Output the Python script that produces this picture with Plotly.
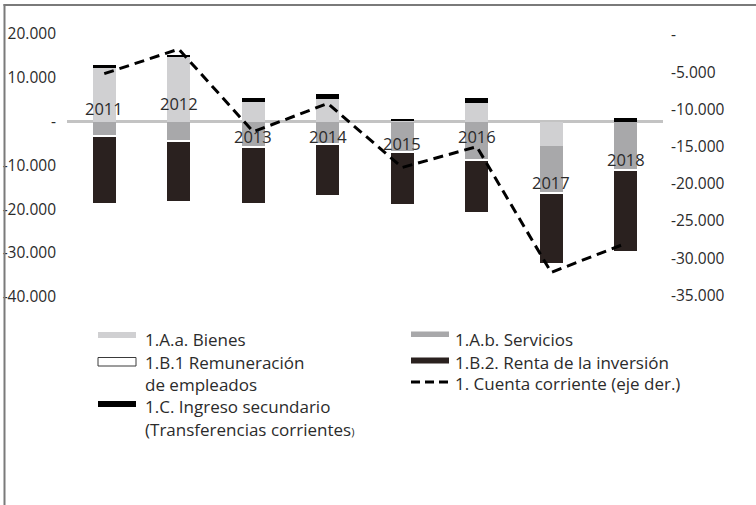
import plotly.graph_objects as go

# Balanza de pagos: componentes de la cuenta corriente (eje izq.) y saldo (eje der.)
years = ["2011", "2012", "2013", "2014", "2015", "2016", "2017", "2018"]

bienes = [12200, 14700, 4500, 5100, 300, 4200, -5600, 0]
servicios = [-3100, -4300, -5700, -4900, -6900, -8600, -10700, -10900]
remuneracion = [-400, -400, -400, -400, -300, -400, -300, -300]
renta = [-15000, -13400, -12400, -11500, -11700, -11600, -15700, -18300]
ingreso_sec = [700, 600, 800, 1300, 400, 1100, 0, 900]
cuenta_corriente = [-5200, -1900, -13000, -9200, -17800, -15000, -31900, -28000]

left_ticks = [20000, 10000, 0, -10000, -20000, -30000, -40000]
left_ticktext = ["20.000", "10.000", "-", "-10.000", "-20.000", "-30.000", "-40.000"]
right_ticks = [0, -5000, -10000, -15000, -20000, -25000, -30000, -35000]
right_ticktext = ["-", "-5.000", "-10.000", "-15.000", "-20.000", "-25.000", "-30.000", "-35.000"]

FONT = "Open Sans"
TXT = "#2b2b2b"
C_BIENES = "#d0d0d2"
C_SERV = "#a8a8aa"
C_REM = "#ffffff"
C_RENTA = "#2a211f"
C_ING = "#000000"

W, H = 756, 505
ML, MR, MT, MB = 67, 93, 20, 195

def px(xp):
    return (xp - ML) / (W - ML - MR)

def py(yp):
    return (H - MB - yp) / (H - MT - MB)

fig = go.Figure()
bar_w = 0.31
for name, vals, col in [
    ("1.A.a. Bienes", bienes, C_BIENES),
    ("1.A.b. Servicios", servicios, C_SERV),
    ("1.B.1 Remuneración de empleados", remuneracion, C_REM),
    ("1.B.2. Renta de la inversión", renta, C_RENTA),
    ("1.C. Ingreso secundario", ingreso_sec, C_ING),
]:
    fig.add_trace(go.Bar(x=years, y=vals, name=name, marker=dict(color=col, line=dict(width=0)),
                         width=bar_w, showlegend=False, hoverinfo="skip"))

fig.add_trace(go.Scatter(x=years, y=cuenta_corriente, yaxis="y2", mode="lines",
                         line=dict(color="#000000", width=3, dash="10px,6px"),
                         showlegend=False, hoverinfo="skip"))

# Year labels placed over the bars (left-axis units); x given as category index
label_y = [3100, 4200, -3500, -3500, -4900, -3300, -13900, -8600]
annotations = []
for i, (yr, ly) in enumerate(zip(years, label_y)):
    annotations.append(dict(x=i, y=ly, xref="x", yref="y", text=yr, showarrow=False,
                            font=dict(family=FONT, size=16.5, color=TXT)))

# Legend built from swatches and text
shapes = []
def swatch(x0, x1, y0, y1, fill, line_col=None):
    shapes.append(dict(type="rect", xref="paper", yref="paper",
                       x0=px(x0), x1=px(x1), y0=py(y1), y1=py(y0),
                       fillcolor=fill,
                       line=dict(color=line_col or fill, width=1 if line_col else 0)))

swatch(98, 136, 332, 338, C_BIENES)
swatch(98, 136, 357.5, 366, "#ffffff", "#3a3a3a")
swatch(98, 136, 401, 407, C_ING)
swatch(411, 449, 331.5, 337, C_SERV)
swatch(411, 449, 357.5, 363.5, C_RENTA)
shapes.append(dict(type="line", xref="paper", yref="paper", x0=px(411), x1=px(449),
                   y0=py(382), y1=py(382), line=dict(color="#000000", width=2.8, dash="9px,5px")))

legend_text = [
    (143, 339.5, "1.A.a. Bienes"),
    (143, 362, "1.B.1 Remuneración"),
    (143, 384, "de empleados"),
    (143, 406.5, "1.C. Ingreso secundario"),
    (143, 429, "(Transferencias corrientes<span style=\"font-size:11px\">)</span>"),
    (453, 339.5, "1.A.b. Servicios"),
    (453, 362, "1.B.2. Renta de la inversión"),
    (453, 383, "1. Cuenta corriente (eje der.)"),
]
for xl, yl, t in legend_text:
    annotations.append(dict(x=px(xl), y=py(yl), xref="paper", yref="paper", text=t,
                            showarrow=False, xanchor="left", yanchor="middle",
                            font=dict(family=FONT, size=17, color=TXT)))

# Outer frame: top and left edges
frame_col = "#7a7a7a"
shapes.append(dict(type="line", xref="paper", yref="paper", layer="above",
                   x0=px(3.5), x1=px(W), y0=py(5), y1=py(5),
                   line=dict(color=frame_col, width=2)))
shapes.append(dict(type="line", xref="paper", yref="paper", layer="above",
                   x0=px(4.5), x1=px(4.5), y0=py(4), y1=py(H),
                   line=dict(color=frame_col, width=2)))

fig.update_layout(
    width=W, height=H,
    margin=dict(l=ML, r=MR, t=MT, b=MB, pad=0),
    paper_bgcolor="white", plot_bgcolor="white",
    barmode="relative", bargap=0,
    font=dict(family=FONT, color=TXT),
    xaxis=dict(type="category", range=[-0.5, 7.5], showticklabels=False, showgrid=False,
               zeroline=False, showline=False, ticks="", automargin=False),
    yaxis=dict(range=[-43030, 23210], tickvals=left_ticks, ticktext=left_ticktext,
               showgrid=False, zeroline=True, zerolinecolor="#c3c3c3", zerolinewidth=2.5,
               showline=False, ticks="", ticklabelstandoff=10, automargin=False,
               tickfont=dict(family=FONT, size=15.5, color=TXT)),
    yaxis2=dict(range=[-36950, 2015], overlaying="y", side="right",
                tickvals=right_ticks, ticktext=right_ticktext, showgrid=False,
                zeroline=False, showline=False, ticks="", ticklabelstandoff=7, automargin=False,
                tickfont=dict(family=FONT, size=15.5, color=TXT)),
    shapes=shapes, annotations=annotations,
    showlegend=False,
)

fig.write_html("out.html")
